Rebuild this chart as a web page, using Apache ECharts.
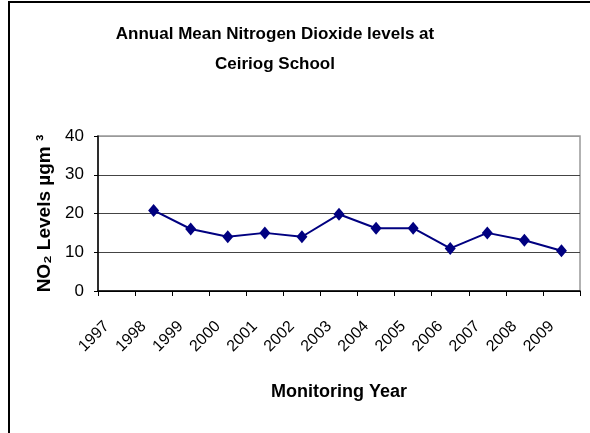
<!DOCTYPE html>
<html>
<head>
	<meta charset="utf-8">
	<script src="https://cdn.jsdelivr.net/npm/echarts@6/dist/echarts.min.js"></script>
	<title>NO2 levels Ceiriog School</title>
	<style>
		body { margin: 0; background: #fff; }
		#main { width: 590px; height: 433px; }
		#frame { position: absolute; left: 8px; top: 1px; width: 582px; height: 432px;
			border-left: 2px solid #000; border-top: 2px solid #000; pointer-events: none; }
	</style>
</head>
<body>
	<div id="main"></div>
	<div id="frame"></div>
	<script type="text/javascript">
		// years on the axis (1997 has no reading)
		var years = ['1997', '1998', '1999', '2000', '2001', '2002', '2003', '2004', '2005', '2006', '2007', '2008', '2009']
		var no2 = [null, 20.8, 16, 14, 15, 14, 19.8, 16.2, 16.2, 11, 15, 13.1, 10.4]
		var yTicks = [0, 10, 20, 30, 40]

		var font = "'Liberation Sans', Arial, sans-serif"
		var myChart = echarts.init(document.getElementById('main'))

		var option = {
			animation: false,
			backgroundColor: '#fff',
			title: {
				text: 'Annual Mean Nitrogen Dioxide levels at\nCeiriog School',
				left: 270,
				top: 14,
				textAlign: 'center',
				textStyle: {
					fontFamily: font,
					fontSize: 17,
					fontWeight: 'bold',
					color: '#000',
					lineHeight: 30
				}
			},
			grid: {
				left: 98,
				right: 10,
				top: 136,
				bottom: 142,
				show: true,
				borderColor: '#999',
				borderWidth: 1.5
			},
			xAxis: {
				type: 'category',
				data: years,
				boundaryGap: true,
				name: 'Monitoring Year',
				nameLocation: 'middle',
				nameGap: 92,
				nameTextStyle: { fontFamily: font, fontSize: 18, fontWeight: 'bold', color: '#000' },
				axisLine: { lineStyle: { color: '#000', width: 1.5 } },
				axisTick: { show: true, length: 5, lineStyle: { color: '#000' } },
				axisLabel: {
					rotate: 45,
					margin: 23,
					padding: [0, 14, 0, 0],
					fontFamily: font,
					fontSize: 16,
					color: '#000',
					interval: 0
				},
				splitLine: { show: false }
			},
			yAxis: {
				type: 'value',
				min: yTicks[0],
				max: yTicks[yTicks.length - 1],
				interval: 10,
				name: 'NO\u2082 Levels \u00b5gm \u00b3',
				nameLocation: 'middle',
				nameRotate: 90,
				nameGap: 44,
				nameTextStyle: { fontFamily: font, fontSize: 19, fontWeight: 'bold', color: '#000' },
				axisLine: { show: true, lineStyle: { color: '#000', width: 1.5 } },
				axisTick: { show: true, length: 4, lineStyle: { color: '#000' } },
				axisLabel: { margin: 14, fontFamily: font, fontSize: 17, color: '#000' },
				splitLine: { show: true, lineStyle: { color: ['#000', '#444', '#444', '#444', '#999'], width: 1.2 } }
			},
			series: [{
				name: 'NO2',
				type: 'line',
				data: no2,
				connectNulls: false,
				symbol: 'diamond',
				symbolSize: [11, 13],
				itemStyle: { color: '#000080' },
				lineStyle: { color: '#000080', width: 2 }
			}]
		}
		myChart.setOption(option)
	</script>
</body>
</html>
